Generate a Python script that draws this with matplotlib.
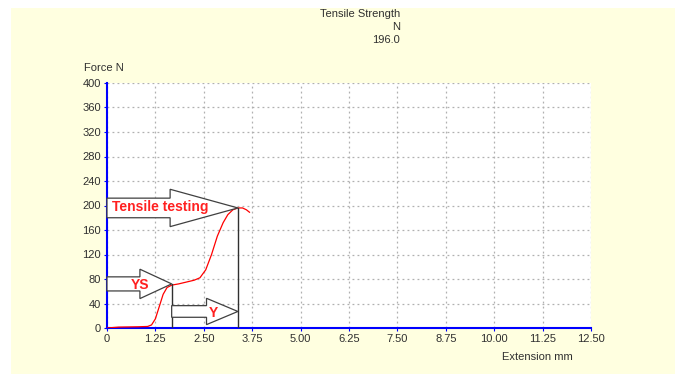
import numpy as np
import matplotlib.pyplot as plt
from matplotlib.patches import FancyArrow, Rectangle

plt.rcParams['font.family'] = ['Liberation Sans', 'DejaVu Sans']

# curve (extension mm, force N)
ext = [0.0, 0.3, 0.8, 1.05, 1.15, 1.25, 1.35, 1.45, 1.55, 1.67, 1.85, 2.05, 2.25, 2.40,
       2.55, 2.70, 2.85, 3.00, 3.12, 3.25, 3.38, 3.50, 3.60, 3.68]
force = [0.0, 1.5, 2.0, 2.5, 5.0, 15.0, 35.0, 55.0, 66.0, 70.0, 72.0, 75.0, 78.0, 82.0,
         95.0, 120.0, 150.0, 172.0, 185.0, 193.0, 196.0, 196.0, 193.0, 189.0]

x_ticks = [0, 1.25, 2.50, 3.75, 5.00, 6.25, 7.50, 8.75, 10.00, 11.25, 12.50]
x_labels = ['0', '1.25', '2.50', '3.75', '5.00', '6.25', '7.50', '8.75', '10.00', '11.25', '12.50']
y_ticks = list(range(0, 401, 40))

ys_x, ys_y = 1.67, 72.0
ts_x, ts_y = 3.38, 196.0
y_arrow_y = 27.0

fig = plt.figure(figsize=(6.75, 3.74), dpi=100)
fig.patch.set_facecolor('white')
fig.patches.append(Rectangle((11 / 675, 0), 1, 1 - 8 / 374, transform=fig.transFigure,
                             facecolor='#ffffe0', edgecolor='none', zorder=-10))

ax = fig.add_axes([107 / 675, 1 - 328 / 374, (591 - 107) / 675, (328 - 83) / 374])
ax.set_facecolor('white')
ax.set_xlim(0, 12.5)
ax.set_ylim(0, 400)
ax.set_xticks(x_ticks)
ax.set_xticklabels(x_labels)
ax.set_yticks(y_ticks)
ax.tick_params(labelsize=8, colors='#303030', length=2.5, pad=2)
ax.tick_params(axis='both', color='blue')
ax.grid(True, color='#b0b0b0', linestyle=(0, (1.5, 2.5)), linewidth=0.9)
for s in ['top', 'right']:
    ax.spines[s].set_visible(False)
for s in ['left', 'bottom']:
    ax.spines[s].set_color('blue')
    ax.spines[s].set_linewidth(1.5)

ax.plot(ext, force, color='red', linewidth=0.9, zorder=3)

# vertical markers
ax.plot([ys_x, ys_x], [0, ys_y], color='#303030', linewidth=1, zorder=4)
ax.plot([ts_x, ts_x], [0, ts_y], color='#303030', linewidth=1, zorder=4)

# block arrows
def block_arrow(x0, x1, y, body, head, head_len):
    a = FancyArrow(x0, y, x1 - x0, 0, width=body, head_width=head, head_length=head_len,
                   length_includes_head=True, facecolor='white', edgecolor='#404040',
                   linewidth=0.9, zorder=5, clip_on=False)
    ax.add_patch(a)

block_arrow(0, ts_x, ts_y, 32, 61, ts_x - 1.63)
block_arrow(0, ys_x, ys_y, 23, 48, ys_x - 0.85)
block_arrow(ys_x, ts_x, y_arrow_y, 19, 43, ts_x - 2.57)

ax.text(0.12, 197, 'Tensile testing', color='#ff2020', fontsize=10, fontweight='bold',
        va='center', ha='left', zorder=6)
ax.text(0.85, 70, 'YS', color='#ff2020', fontsize=10, fontweight='bold',
        va='center', ha='center', zorder=6)
ax.text(2.74, 25, 'Y', color='#ff2020', fontsize=10, fontweight='bold',
        va='center', ha='center', zorder=6)

fig.text(400 / 675, 1 - 9 / 374, 'Tensile Strength\nN\n196.0', ha='right', va='top',
         fontsize=8, color='#303030', linespacing=1.4)
fig.text(84 / 675, 1 - 68 / 374, 'Force N', ha='left', va='center', fontsize=8, color='#303030')
fig.text(573 / 675, 1 - 357 / 374, 'Extension mm', ha='right', va='center', fontsize=8,
         color='#303030')

fig.savefig('out.png', dpi=100, facecolor=fig.get_facecolor())
